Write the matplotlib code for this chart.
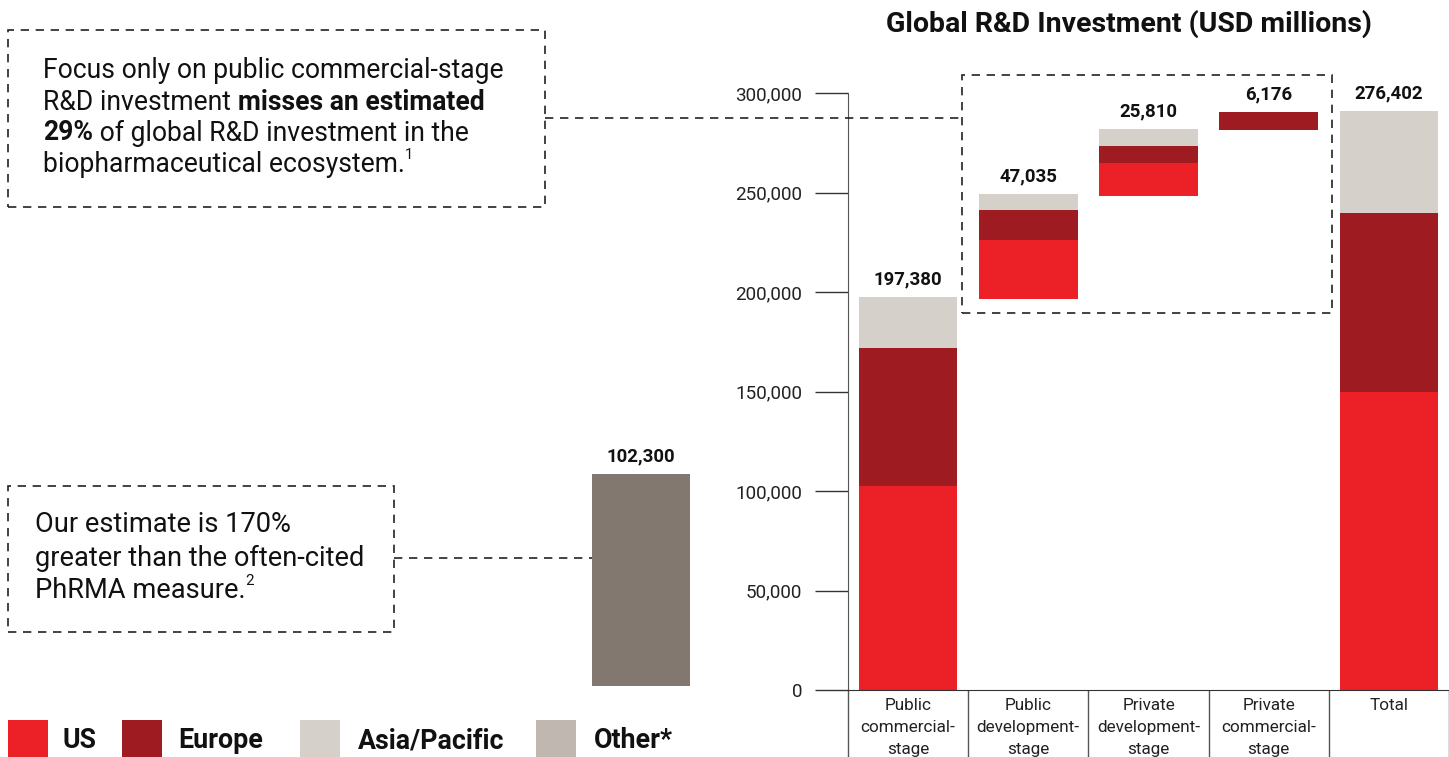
import matplotlib
matplotlib.use("Agg")
import matplotlib.pyplot as plt
from matplotlib.patches import Rectangle
from matplotlib.lines import Line2D

plt.rcParams['font.family'] = ['Roboto', 'DejaVu Sans']

# data (USD millions)
categories = ["Public\ncommercial-\nstage", "Public\ndevelopment-\nstage",
              "Private\ndevelopment-\nstage", "Private\ncommercial-\nstage", "Total"]
bases = [0, 196600, 248400, 281400, 0]
us_vals = [102500, 29500, 16400, 0, 149700]
europe_vals = [69400, 15100, 8600, 9100, 90000]
asia_vals = [25500, 8000, 8500, 0, 51300]
value_labels = ["197,380", "47,035", "25,810", "6,176", "276,402"]
yticks = [0, 50000, 100000, 150000, 200000, 250000, 300000]

phrma_value = 102300
phrma_label = "102,300"

legend_names = ["US", "Europe", "Asia/Pacific", "Other*"]

C_US = "#EC2027"
C_EU = "#9E1B21"
C_ASIA = "#D5D0CA"
C_OTHER = "#C0B8B0"
C_PHRMA = "#82786F"

W, H = 1449, 757
fig = plt.figure(figsize=(W / 100, H / 100), dpi=100)


def fx(px):
    return px / W


def fy(py):
    return 1 - py / H


# ---- main waterfall axes
ax = fig.add_axes([fx(848), fy(690), fx(1449) - fx(848), fy(93) - fy(690)])
x = list(range(len(categories)))
bw = 0.82
bottom = list(bases)
for vals, col in [(us_vals, C_US), (europe_vals, C_EU), (asia_vals, C_ASIA)]:
    ax.bar(x, vals, bw, bottom=bottom, color=col, linewidth=0)
    bottom = [b + v for b, v in zip(bottom, vals)]
for xi, top, lab in zip(x, bottom, value_labels):
    ax.annotate(lab, (xi, top), xytext=(0, 6), textcoords="offset points",
                ha="center", va="bottom", fontsize=13.4, fontweight="bold",
                color="#111111", annotation_clip=False)

ax.set_xlim(-0.5, 4.5)
ax.set_ylim(0, 300000)
ax.set_yticks(yticks)
ax.set_yticklabels([f"{v:,}" for v in yticks])
ax.tick_params(axis="y", length=24, width=1, pad=9, labelsize=13.6, color="#333333",
               labelcolor="#222222")
ax.set_xticks(x)
ax.set_xticklabels(categories, fontsize=12.3, linespacing=1.55, color="#222222")
ax.tick_params(axis="x", which="major", length=0, pad=6)
ax.set_xticks([i - 0.5 for i in range(len(categories) + 1)], minor=True)
ax.tick_params(axis="x", which="minor", length=55, width=1, color="#555555", direction="out")
for s in ["top", "right"]:
    ax.spines[s].set_visible(False)
ax.spines["left"].set_color("#555555")
ax.spines["bottom"].set_color("#333333")

# dashed box around the non-public-commercial bars
ax.add_patch(Rectangle((0.45, 189500), 3.08, 119500, fill=False, ls=(0, (5, 4)),
                       lw=1.2, ec="#222222", clip_on=False))

ax.set_title("Global R&D Investment (USD millions)", fontsize=20.5, fontweight="bold",
             color="#111111", x=(1129 - 848) / (1449 - 848), y=1.0, pad=44)

# ---- PhRMA bar
ax2 = fig.add_axes([fx(592), fy(686), fx(690) - fx(592), fy(64) - fy(686)])
ax2.bar([0], [phrma_value], 1.0, color=C_PHRMA, linewidth=0)
ax2.annotate(phrma_label, (0, phrma_value), xytext=(0, 6), textcoords="offset points",
             ha="center", va="bottom", fontsize=13.4, fontweight="bold", color="#111111")
ax2.set_xlim(-0.5, 0.5)
ax2.set_ylim(0, 300000)
ax2.axis("off")

# ---- annotation boxes
dash = dict(ls=(0, (5, 4)), lw=1.2, color="#222222")
fig.add_artist(Rectangle((fx(8), fy(207)), fx(545) - fx(8), fy(30) - fy(207), fill=False,
                         ls=dash["ls"], lw=dash["lw"], ec=dash["color"], transform=fig.transFigure))
fig.add_artist(Line2D([fx(545), fx(960)], [fy(118), fy(118)], transform=fig.transFigure, **dash))
fig.add_artist(Rectangle((fx(8), fy(632)), fx(394) - fx(8), fy(486) - fy(632), fill=False,
                         ls=dash["ls"], lw=dash["lw"], ec=dash["color"], transform=fig.transFigure))
fig.add_artist(Line2D([fx(394), fx(592)], [fy(558), fy(558)], transform=fig.transFigure, **dash))

renderer = fig.canvas.get_renderer()


def runs(px, py, parts, size):
    # draw a line made of runs with different weights, left to right
    cur = px
    for txt, weight, sup in parts:
        s = size * 0.55 if sup else size
        yy = py - 9 if sup else py
        t = fig.text(fx(cur), fy(yy), txt, fontsize=s, fontweight=weight,
                     va="center", ha="left", color="#111111")
        bb = t.get_window_extent(renderer)
        cur += bb.width


sp = " "
fs1 = 19.1
runs(43, 71, [("Focus only on public commercial-stage", "normal", False)], fs1)
runs(43, 102, [("R&D investment" + sp, "normal", False), ("misses an estimated", "semibold", False)], fs1)
runs(43, 133, [("29%", "semibold", False), (sp + "of global R&D investment in the", "normal", False)], fs1)
runs(43, 164, [("biopharmaceutical ecosystem.", "normal", False), ("1", "normal", True)], fs1)

fs2 = 19.6
runs(35, 525, [("Our estimate is 170%", "normal", False)], fs2)
runs(35, 558, [("greater than the often-cited", "normal", False)], fs2)
runs(35, 590, [("PhRMA measure.", "normal", False), ("2", "normal", True)], fs2)

# ---- legend
sq_x = [8, 122, 300, 536]
txt_x = [63, 178, 358, 594]
for name, col, sx, tx in zip(legend_names, [C_US, C_EU, C_ASIA, C_OTHER], sq_x, txt_x):
    fig.add_artist(Rectangle((fx(sx), fy(760)), fx(40), fy(720) - fy(760), color=col,
                             transform=fig.transFigure, lw=0))
    fig.text(fx(tx), fy(741), name, fontsize=19.3, fontweight="bold", va="center",
             ha="left", color="#111111")

fig.savefig("out.png", dpi=100)
